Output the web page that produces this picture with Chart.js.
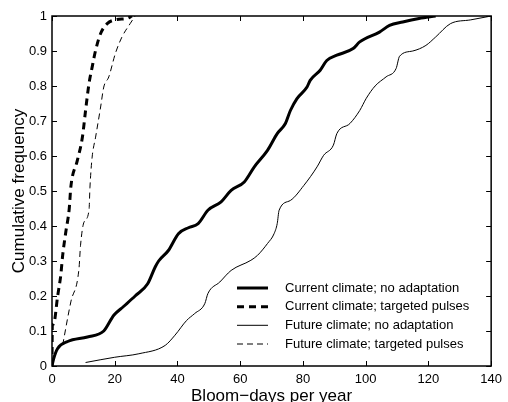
<!DOCTYPE html>
<html>
<head>
<meta charset="utf-8">
<script src="https://cdn.jsdelivr.net/npm/chart.js@4"></script>
<style>
  body { margin: 0; background: #fff; }
</style>
</head>
<body>
<canvas id="cdf-chart" width="508" height="402"></canvas>
<script>
// Values
var seriesLabels = ["Current climate; no adaptation", "Current climate; targeted pulses",
                    "Future climate; no adaptation", "Future climate; targeted pulses"]

var curNoAdaptX = [0, 0.5, 1.8, 5, 11.3, 16.5, 19.7, 22.8, 26.5, 30.5, 32.9, 34, 37.1, 40.3, 43.5, 46.6, 49.7, 53.9, 57.1, 61.3,
                   64.5, 68.7, 71.8, 74.4, 76, 78.1, 81.3, 82.3, 85.5, 87.6, 90.8, 96, 98.1, 104.4, 107.6, 111.8, 117, 122.3]
var curNoAdaptY = [0, 0.02, 0.05, 0.07, 0.083, 0.1, 0.145, 0.17, 0.2, 0.235, 0.283, 0.3, 0.33, 0.378, 0.395, 0.407, 0.445, 0.469, 0.502, 0.526,
                   0.569, 0.616, 0.664, 0.693, 0.73, 0.764, 0.797, 0.816, 0.845, 0.873, 0.888, 0.907, 0.926, 0.954, 0.973, 0.983, 0.993, 1]

var curPulsesX = [0, 0.1, 0.5, 1.8, 2.8, 3.4, 4.4, 5.5, 6, 8.1, 9.7, 10.7, 11.8, 12.8, 13.9, 15.5, 17.6, 20.7, 23.9, 25.5]
var curPulsesY = [0, 0.116, 0.12, 0.2, 0.26, 0.316, 0.383, 0.45, 0.511, 0.588, 0.654, 0.73, 0.807, 0.854, 0.902, 0.95, 0.978, 0.99, 0.993, 1]

var futNoAdaptX = [10.7, 20, 27.7, 36.1, 39.2, 42.9, 45.5, 48.7, 49.7, 53.5, 57.1, 63.4, 65.5, 68.7, 70.8, 71.8, 72.4, 76, 80.3, 84.5,
                   86.6, 89.7, 90.8, 95, 98.1, 100.2, 103, 106.5, 109.7, 110.8, 115, 119.2, 122.3, 127, 133.5, 140]
var futNoAdaptY = [0.01, 0.025, 0.035, 0.059, 0.088, 0.13, 0.15, 0.178, 0.207, 0.24, 0.273, 0.302, 0.316, 0.35, 0.378, 0.407, 0.445, 0.473, 0.516, 0.569,
                   0.602, 0.631, 0.664, 0.693, 0.73, 0.765, 0.8, 0.826, 0.85, 0.885, 0.9, 0.916, 0.94, 0.978, 0.989, 1]

var futPulsesX = [3.4, 6, 8.6, 9.1, 10.2, 11.8, 12.1, 12.8, 13.9, 15.5, 16.5, 18.1, 20.2, 22.3, 24.9, 26.5]
var futPulsesY = [0.06, 0.183, 0.278, 0.345, 0.411, 0.445, 0.511, 0.597, 0.654, 0.74, 0.797, 0.826, 0.893, 0.94, 0.978, 1]

var xTicks = [0, 20, 40, 60, 80, 100, 120, 140]
var yTicks = [0, 0.1, 0.2, 0.3, 0.4, 0.5, 0.6, 0.7, 0.8, 0.9, 1]

var fontFamily = "'Liberation Sans', Arial, Helvetica, sans-serif"

function toPoints(xs, ys) {
    return xs.map((x, i) => ({ x: x, y: ys[i] }))
}

// box round the plot and inward ticks on all four sides (matlab look)
var boxAndTicks = {
    id: "boxAndTicks",
    afterDraw(chart) {
        const ctx = chart.ctx
        const a = chart.chartArea
        const xs = chart.scales.x
        const ys = chart.scales.y
        const len = 5
        ctx.save()
        ctx.strokeStyle = "#000"
        ctx.lineWidth = 1
        xTicks.forEach(t => {
            const px = Math.round(xs.getPixelForValue(t)) + 0.5
            ctx.beginPath()
            ctx.moveTo(px, a.bottom); ctx.lineTo(px, a.bottom - len)
            ctx.moveTo(px, a.top); ctx.lineTo(px, a.top + len)
            ctx.stroke()
        })
        yTicks.forEach(t => {
            const py = Math.round(ys.getPixelForValue(t)) + 0.5
            ctx.beginPath()
            ctx.moveTo(a.left, py); ctx.lineTo(a.left + len, py)
            ctx.moveTo(a.right, py); ctx.lineTo(a.right - len, py)
            ctx.stroke()
        })
        ctx.lineWidth = 1.5
        ctx.strokeRect(a.left, a.top, a.right - a.left, a.bottom - a.top)
        ctx.restore()
    }
}

// legend inside the plot, lower right, no frame
var innerLegend = {
    id: "innerLegend",
    afterDatasetsDraw(chart) {
        const ctx = chart.ctx
        const rowsY = [288, 306.7, 325.3, 344]
        ctx.save()
        ctx.font = "13px " + fontFamily
        ctx.textBaseline = "middle"
        ctx.fillStyle = "#000"
        chart.data.datasets.forEach((ds, i) => {
            const y = rowsY[i]
            ctx.strokeStyle = "#000"
            ctx.lineWidth = ds.borderWidth
            ctx.setLineDash(ds.borderDash || [])
            ctx.beginPath()
            ctx.moveTo(237, y)
            ctx.lineTo(268, y)
            ctx.stroke()
            ctx.setLineDash([])
            ctx.fillText(ds.label, 285, y)
        })
        ctx.restore()
    }
}

function createChart() {
    new Chart("cdf-chart", {
        type: "line",
        data: {
            datasets: [
                { label: seriesLabels[0], data: toPoints(curNoAdaptX, curNoAdaptY), borderWidth: 3 },
                { label: seriesLabels[1], data: toPoints(curPulsesX, curPulsesY), borderWidth: 3, borderDash: [7, 5] },
                { label: seriesLabels[2], data: toPoints(futNoAdaptX, futNoAdaptY), borderWidth: 1 },
                { label: seriesLabels[3], data: toPoints(futPulsesX, futPulsesY), borderWidth: 1, borderDash: [6, 4] }
            ].map(ds => Object.assign(ds, {
                borderColor: "#000", pointRadius: 0, fill: false, cubicInterpolationMode: "monotone"
            }))
        },
        options: {
            responsive: false,
            animation: false,
            layout: { padding: { top: 16, right: 11, left: 0, bottom: 0 } },
            plugins: {
                legend: { display: false },
                tooltip: { enabled: false }
            },
            scales: {
                x: {
                    type: "linear",
                    min: 0,
                    max: 140,
                    afterBuildTicks: s => { s.ticks = xTicks.map(v => ({ value: v })) },
                    afterFit: s => { s.height = 36 },
                    ticks: { color: "#000", font: { size: 13, family: fontFamily }, padding: 6, maxRotation: 0,
                             callback: v => String(v) },
                    grid: { display: false, drawTicks: false },
                    border: { display: false },
                    title: {
                        display: true,
                        text: "Bloom\u2212days per year",
                        color: "#000",
                        font: { size: 17, family: fontFamily, lineHeight: 0.7 },
                        padding: 0
                    }
                },
                y: {
                    type: "linear",
                    min: 0,
                    max: 1,
                    afterBuildTicks: s => { s.ticks = yTicks.map(v => ({ value: v })) },
                    afterFit: s => { s.width = 52 },
                    ticks: { color: "#000", font: { size: 13, family: fontFamily }, padding: 5,
                             callback: v => String(v) },
                    grid: { display: false, drawTicks: false },
                    border: { display: false },
                    title: {
                        display: true,
                        text: "Cumulative frequency",
                        color: "#000",
                        font: { size: 17, family: fontFamily, lineHeight: 1 },
                        padding: { top: 11, bottom: 0 }
                    }
                }
            }
        },
        plugins: [boxAndTicks, innerLegend]
    })
}

createChart()
</script>
</body>
</html>
